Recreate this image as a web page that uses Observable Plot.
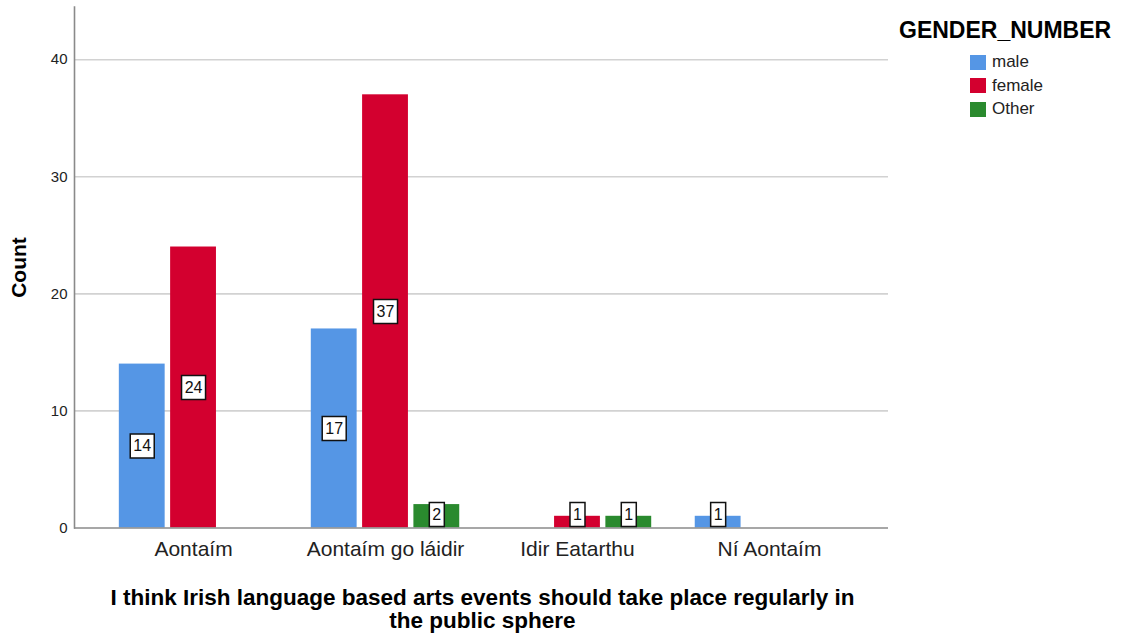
<!DOCTYPE html>
<html><head><meta charset="utf-8">
<script src="https://cdn.jsdelivr.net/npm/d3@7"></script>
<script src="https://cdn.jsdelivr.net/npm/@observablehq/plot@0.6"></script>
<style>
body{margin:0;background:#fff;font-family:"Liberation Sans",Arial,sans-serif;}
#wrap{position:relative;width:1121px;height:634px;overflow:hidden;}
#legend{position:absolute;left:899px;top:0;}
#legend .title{position:absolute;left:0;top:18.3px;font-size:23px;font-weight:bold;line-height:1.117;white-space:nowrap;color:#000;}
#legend .rows{position:absolute;left:71px;top:50.3px;}
#legend .row{display:flex;align-items:center;height:23.5px;font-size:17px;color:#222;white-space:nowrap;}
#legend .sw{width:16px;height:15px;margin-right:6px;}
#xtitle{position:absolute;left:0;width:965px;top:585.5px;text-align:center;font-size:22.5px;font-weight:bold;line-height:23px;color:#000;white-space:nowrap;}
</style></head><body><div id="wrap"></div>
<script>
// ---- data ----
const categories = ["Aontaím", "Aontaím go láidir", "Idir Eatarthu", "Ní Aontaím"];
const genders = ["male", "female", "Other"];
const maleCounts = [14, 17, 0, 1];
const femaleCounts = [24, 37, 1, 0];
const otherCounts = [0, 2, 1, 0];
const genderColors = ["#5596e5", "#d3002f", "#2a8a2e"];
const yTicks = [0, 10, 20, 30, 40];
const gridTicks = [10, 20, 30, 40];
const yTitle = "Count";
const legendTitle = "GENDER_NUMBER";
const xTitleLines = ["I think Irish language based arts events should take place regularly in", "the public sphere"];

const seriesValues = [maleCounts, femaleCounts, otherCounts];
const rows = [];
categories.forEach((c, ci) => genders.forEach((g, gi) => {
  rows.push({category: c, gender: g, gi, value: seriesValues[gi][ci]});
}));
const shown = rows.filter(d => d.value > 0);

const slot = 51.3;
const wideBox = {draw(ctx) { ctx.rect(-12, -12, 24, 24); }};
const narrowBox = {draw(ctx) { ctx.rect(-7.5, -12, 15, 24); }};
const labelY = d => Math.max(d.value / 2, 1.15);

const marks = [
  Plot.gridY(gridTicks, {stroke: "#d2d2d2", strokeOpacity: 1, strokeWidth: 1.6}),
];
genders.forEach((g, gi) => {
  marks.push(Plot.barY(shown.filter(d => d.gi === gi), {
    x: "category", y: "value", fill: genderColors[gi],
    insetLeft: gi * slot, insetRight: (2 - gi) * slot
  }));
});
marks.push(Plot.ruleY([0], {stroke: "#8a8a8a", strokeWidth: 1.6}));
marks.push(Plot.frame({anchor: "left", stroke: "#8a8a8a", strokeWidth: 1.6}));
genders.forEach((g, gi) => {
  const sub = shown.filter(d => d.gi === gi);
  const dx = (gi - 1) * slot;
  marks.push(Plot.dot(sub.filter(d => d.value >= 10), {x: "category", y: labelY, symbol: wideBox, r: 5, fill: "white", stroke: "#111", strokeWidth: 1.5, dx}));
  marks.push(Plot.dot(sub.filter(d => d.value < 10), {x: "category", y: labelY, symbol: narrowBox, r: 5, fill: "white", stroke: "#111", strokeWidth: 1.5, dx}));
  marks.push(Plot.text(sub, {x: "category", y: labelY, text: d => String(d.value), fontSize: 16, fill: "#111", dx}));
});
marks.push(Plot.axisY(yTicks, {tickSize: 0, tickPadding: 7, fontSize: 15, label: null, fill: "#222"}));
marks.push(Plot.axisX({tickSize: 0, tickPadding: 13, fontSize: 21, label: null, fill: "#222"}));
marks.push(Plot.text([yTitle], {frameAnchor: "left", textAnchor: "middle", rotate: -90, dx: -55, fontSize: 21, fontWeight: "bold", fill: "#000"}));

const chart = Plot.plot({
  width: 1121, height: 634,
  marginLeft: 74, marginRight: 233, marginTop: 6.5, marginBottom: 106.5,
  style: {fontFamily: "'Liberation Sans', Arial, sans-serif", background: "#fff", color: "#222", overflow: "visible"},
  x: {domain: categories, paddingInner: 0.2268, paddingOuter: 0.2335, round: false, label: null},
  y: {domain: [0, 44.5], label: null},
  marks
});
const wrap = document.getElementById("wrap");
wrap.appendChild(chart);

// legend
const leg = document.createElement("div");
leg.id = "legend";
const lt = document.createElement("div");
lt.className = "title"; lt.textContent = legendTitle;
leg.appendChild(lt);
const rowsDiv = document.createElement("div");
rowsDiv.className = "rows";
genders.forEach((g, gi) => {
  const r = document.createElement("div"); r.className = "row";
  const sw = document.createElement("span"); sw.className = "sw"; sw.style.background = genderColors[gi];
  const tx = document.createElement("span"); tx.textContent = g;
  r.appendChild(sw); r.appendChild(tx); rowsDiv.appendChild(r);
});
leg.appendChild(rowsDiv);
wrap.appendChild(leg);

// x title
const xt = document.createElement("div");
xt.id = "xtitle";
xTitleLines.forEach((line, i) => {
  if (i) xt.appendChild(document.createElement("br"));
  xt.appendChild(document.createTextNode(line));
});
wrap.appendChild(xt);
</script>
</body></html>
